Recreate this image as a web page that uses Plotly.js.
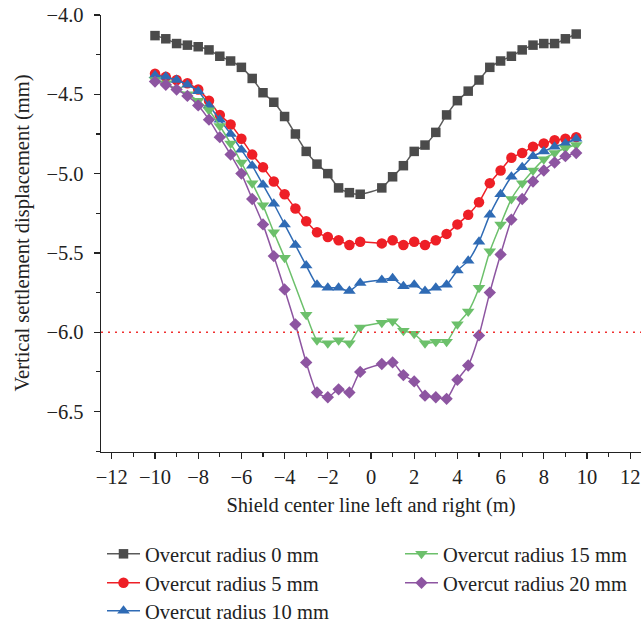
<!DOCTYPE html>
<html>
<head>
<meta charset="utf-8">
<script src="https://cdn.plot.ly/plotly-3.0.1.min.js"></script>
<style>html,body{margin:0;padding:0;background:#fff;}#chart{width:642px;height:626px;}</style>
</head>
<body>
<div id="chart"></div>
<script>
// Distance from shield centre line (m)
const xPos = [-10,-9.5,-9,-8.5,-8,-7.5,-7,-6.5,-6,-5.5,-5,-4.5,-4,-3.5,-3,-2.5,-2,-1.5,-1,-0.5,
              0.5,1,1.5,2,2.5,3,3.5,4,4.5,5,5.5,6,6.5,7,7.5,8,8.5,9,9.5];

const seriesNames = ["Overcut radius 0 mm","Overcut radius 5 mm","Overcut radius 10 mm","Overcut radius 15 mm","Overcut radius 20 mm"];

const r0 = [-4.13,-4.15,-4.18,-4.19,-4.20,-4.22,-4.26,-4.29,-4.33,-4.40,-4.49,-4.55,-4.64,-4.75,-4.86,-4.94,-5.00,-5.09,-5.12,-5.13,
            -5.09,-5.02,-4.95,-4.86,-4.82,-4.74,-4.63,-4.54,-4.48,-4.41,-4.33,-4.29,-4.26,-4.22,-4.19,-4.18,-4.18,-4.15,-4.12];
const r5 = [-4.37,-4.39,-4.41,-4.43,-4.47,-4.54,-4.63,-4.69,-4.78,-4.88,-4.96,-5.05,-5.13,-5.22,-5.30,-5.37,-5.40,-5.42,-5.45,-5.43,
            -5.44,-5.42,-5.45,-5.43,-5.45,-5.42,-5.38,-5.32,-5.26,-5.18,-5.06,-4.98,-4.90,-4.87,-4.83,-4.81,-4.79,-4.78,-4.77];
const r10 = [-4.38,-4.39,-4.41,-4.44,-4.48,-4.57,-4.66,-4.75,-4.85,-4.95,-5.07,-5.19,-5.32,-5.45,-5.58,-5.70,-5.72,-5.72,-5.74,-5.69,
             -5.67,-5.66,-5.71,-5.70,-5.74,-5.72,-5.70,-5.61,-5.55,-5.43,-5.26,-5.13,-5.02,-4.96,-4.89,-4.86,-4.83,-4.81,-4.78];
const r15 = [-4.41,-4.43,-4.47,-4.50,-4.54,-4.60,-4.70,-4.81,-4.93,-5.06,-5.20,-5.37,-5.53,null,-5.89,-6.05,-6.07,-6.05,-6.07,-5.97,
             -5.94,-5.93,-5.99,-6.01,-6.07,-6.06,-6.06,-5.95,-5.87,-5.72,-5.49,-5.32,-5.16,-5.06,-4.98,-4.91,-4.87,-4.84,-4.82];
const r20 = [-4.42,-4.44,-4.47,-4.51,-4.57,-4.66,-4.77,-4.88,-5.00,-5.16,-5.32,-5.52,-5.73,-5.95,-6.19,-6.38,-6.41,-6.36,-6.38,-6.25,
             -6.20,-6.19,-6.27,-6.31,-6.40,-6.41,-6.42,-6.30,-6.21,-6.02,-5.75,-5.51,-5.29,-5.16,-5.05,-4.98,-4.93,-4.89,-4.87];

const limitValue = -6.0;

const xTickVals = [-12,-10,-8,-6,-4,-2,0,2,4,6,8,10,12];
const xTickText = ["\u221212","\u221210","\u22128","\u22126","\u22124","\u22122","0","2","4","6","8","10","12"];
const yTickVals = [-6.5,-6.0,-5.5,-5.0,-4.5,-4.0];
const yTickText = ["\u22126.5","\u22126.0","\u22125.5","\u22125.0","\u22124.5","\u22124.0"];
const yTitle = "Vertical settlement displacement (mm)";
const xTitle = "Shield center line left and right (m)";

const FONT = "Liberation Serif, Times New Roman, serif";
const FS = 20.5;
const styles = [
  {color:"#4b4b4b", line:"#5a5a5a", symbol:"square", size:9.5},
  {color:"#ee1f26", line:"#ee1f26", symbol:"circle", size:10.5},
  {color:"#2f6bb5", line:"#2f6bb5", symbol:"triangle-up", size:11},
  {color:"#6cc06b", line:"#6cc06b", symbol:"triangle-down", size:11},
  {color:"#8d55a1", line:"#8d55a1", symbol:"diamond", size:9.5}
];
const values = [r0, r5, r10, r15, r20];
const legendIds = ["legend", "legend2", "legend3", "legend4", "legend5"];

const traces = values.map((v, i) => ({
  type: "scatter",
  mode: "lines+markers",
  x: xPos,
  y: v,
  name: seriesNames[i],
  connectgaps: true,
  legend: legendIds[i],
  line: {color: styles[i].line, width: 1.5, shape: "spline", smoothing: 0.6},
  marker: {color: styles[i].color, symbol: styles[i].symbol, size: styles[i].size, line: {width: 0}}
}));

const axisCommon = {
  showgrid: false, zeroline: false, showline: true, linecolor: "#222", linewidth: 1.3,
  ticks: "outside", ticklen: 6, tickwidth: 1.2, tickcolor: "#222",
  tickfont: {family: FONT, size: FS, color: "#222"}
};

function legendAt(left, top) {
  return {
    orientation: "v", xanchor: "left", yanchor: "top",
    xref: "container", yref: "container",
    x: left / 642, y: 1 - top / 626,
    font: {family: FONT, size: FS, color: "#222"},
    bgcolor: "rgba(0,0,0,0)", itemwidth: 33
  };
}

const layout = {
  width: 642, height: 626,
  margin: {l: 101, r: 1, t: 15, b: 174, autoexpand: false},
  paper_bgcolor: "#fff", plot_bgcolor: "#fff",
  font: {family: FONT, color: "#222"},
  showlegend: true,
  xaxis: Object.assign({}, axisCommon, {
    range: [-12.5, 12.5], tickvals: xTickVals, ticktext: xTickText,
    minor: {dtick: 1, tick0: 0, ticks: "outside", ticklen: 3.5, tickwidth: 1.2, tickcolor: "#222"},
    title: {text: xTitle, font: {family: FONT, size: FS, color: "#222"}, standoff: 10}
  }),
  yaxis: Object.assign({}, axisCommon, {
    range: [-6.755, -4.0], tickvals: yTickVals, ticktext: yTickText,
    ticklabelstandoff: 6,
    minor: {dtick: 0.25, tick0: -4, ticks: "outside", ticklen: 3.5, tickwidth: 1.2, tickcolor: "#222"}
  }),
  annotations: [{
    text: yTitle, xref: "paper", yref: "paper", x: (22 - 101) / 540, y: 0.5,
    xanchor: "center", yanchor: "middle", textangle: -90, showarrow: false,
    font: {family: FONT, size: FS, color: "#222"}
  }],
  legend: legendAt(102, 534),
  legend2: legendAt(102, 563),
  legend3: legendAt(102, 591),
  legend4: legendAt(400, 534),
  legend5: legendAt(400, 563),
  shapes: [{
    type: "line", xref: "paper", x0: 0, x1: 1, yref: "y", y0: limitValue, y1: limitValue,
    line: {color: "#f03030", width: 1.5, dash: "2px,5px"}
  }]
};

Plotly.newPlot("chart", traces, layout, {staticPlot: true, displayModeBar: false});
</script>
</body>
</html>
